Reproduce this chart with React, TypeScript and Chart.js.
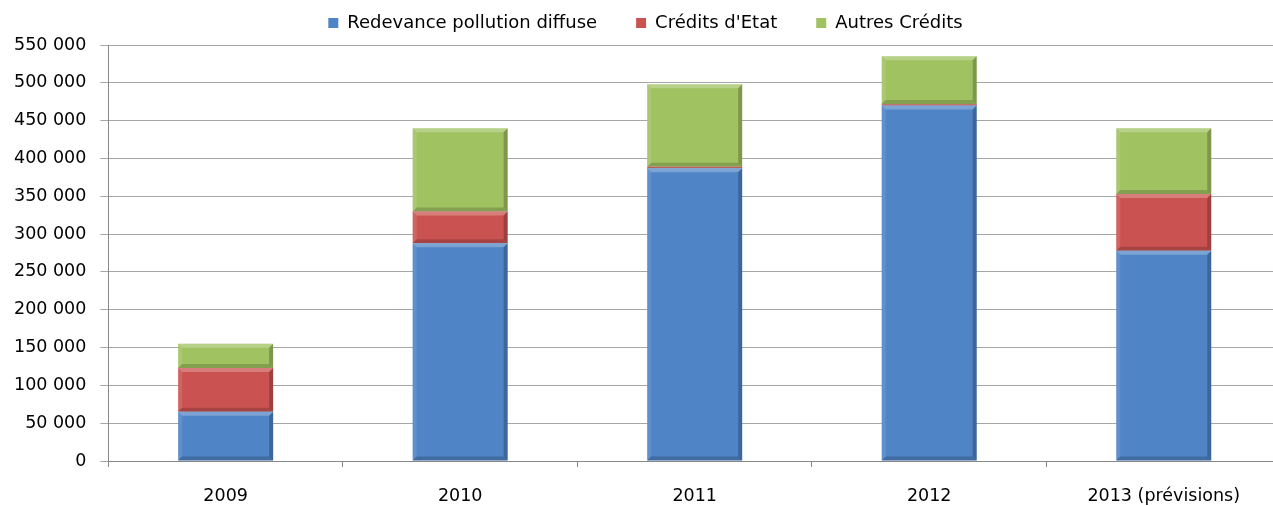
import React, { useEffect, useRef } from "react";
import { Chart, registerables } from "chart.js";

Chart.register(...registerables);

const categories = ["2009", "2010", "2011", "2012", "2013 (prévisions)"];
const redevance = [65000, 288000, 387000, 470000, 278000];
const creditsEtat = [58000, 42000, 2000, 2000, 75000];
const autresCredits = [32000, 110000, 109000, 63000, 87000];
const seriesNames = ["Redevance pollution diffuse", "Crédits d'Etat", "Autres Crédits"];
const yMax = 550000;
const yStep = 50000;

const FONT = "'DejaVu Sans', sans-serif";
const FS = 17.5;
const LEGEND_FS = 18;
const LEGEND_PAD = 39;
const LEGEND_HEIGHT = 70;
const LEGEND_SHIFT = 5;

const bevelPlugin = {
  id: "bevel",
  afterDatasetsDraw(chart: any) {
    const ctx = chart.ctx;
    chart.data.datasets.forEach((_: any, i: number) => {
      const meta = chart.getDatasetMeta(i);
      meta.data.forEach((el: any) => {
        const p = el.getProps(["x", "y", "base", "width"], true);
        const l = p.x - p.width / 2;
        const r = p.x + p.width / 2;
        const t = Math.min(p.y, p.base);
        const b = Math.max(p.y, p.base);
        const h = b - t;
        if (h < 1) return;
        const e = Math.min(4, h / 2);
        ctx.save();
        ctx.fillStyle = "rgba(255,255,255,0.25)";
        ctx.beginPath();
        ctx.moveTo(l, t);
        ctx.lineTo(r, t);
        ctx.lineTo(r - e, t + e);
        ctx.lineTo(l + e, t + e);
        ctx.closePath();
        ctx.fill();
        ctx.fillStyle = "rgba(255,255,255,0.10)";
        ctx.beginPath();
        ctx.moveTo(l, t);
        ctx.lineTo(l + e, t + e);
        ctx.lineTo(l + e, b - e);
        ctx.lineTo(l, b);
        ctx.closePath();
        ctx.fill();
        ctx.fillStyle = "rgba(0,0,0,0.22)";
        ctx.beginPath();
        ctx.moveTo(r, t);
        ctx.lineTo(r, b);
        ctx.lineTo(r - e, b - e);
        ctx.lineTo(r - e, t + e);
        ctx.closePath();
        ctx.fill();
        ctx.fillStyle = "rgba(0,0,0,0.18)";
        ctx.beginPath();
        ctx.moveTo(l, b);
        ctx.lineTo(r, b);
        ctx.lineTo(r - e, b - e);
        ctx.lineTo(l + e, b - e);
        ctx.closePath();
        ctx.fill();
        ctx.restore();
      });
    });
  },
};

const legendHeightPlugin = {
  id: "legendHeight",
  beforeInit(chart: any) {
    const legend = chart.legend;
    if (!legend) return;
    const orig = legend.fit;
    legend.fit = function () {
      orig.call(this);
      this.height = LEGEND_HEIGHT;
    };
  },
  afterLayout(chart: any) {
    const legend = chart.legend;
    if (!legend) return;
    legend.left += LEGEND_SHIFT;
    legend.right += LEGEND_SHIFT;
  },
};

export default function App() {
  const ref = useRef<HTMLCanvasElement | null>(null);
  useEffect(() => {
    if (!ref.current) return;
    const chart = new Chart(ref.current, {
      type: "bar",
      data: {
        labels: categories,
        datasets: [
          { label: seriesNames[0], data: redevance, backgroundColor: "#4F84C6" },
          { label: seriesNames[1], data: creditsEtat, backgroundColor: "#CA5351" },
          { label: seriesNames[2], data: autresCredits, backgroundColor: "#A0C261" },
        ],
      },
      plugins: [bevelPlugin, legendHeightPlugin],
      options: {
        animation: false,
        responsive: false,
        maintainAspectRatio: false,
        layout: { padding: { left: 0, right: 0, top: -25, bottom: -20 } },
        datasets: { bar: { categoryPercentage: 1, barPercentage: 0.405 } },
        plugins: {
          legend: {
            position: "top",
            labels: {
              boxWidth: 10,
              boxHeight: 10,
              padding: LEGEND_PAD,
              color: "#000",
              font: { family: FONT, size: LEGEND_FS },
            },
          },
          tooltip: { enabled: false },
        },
        scales: {
          x: {
            stacked: true,
            grid: { offset: true, drawOnChartArea: false, color: "#888", tickLength: 6 },
            border: { color: "#888" },
            ticks: { color: "#000", padding: 19, maxRotation: 0, font: { family: FONT, size: FS } },
          },
          y: {
            stacked: true,
            min: 0,
            max: yMax,
            grid: { color: "#A6A6A6", tickLength: 8, lineWidth: 1 },
            border: { color: "#888" },
            ticks: {
              stepSize: yStep,
              color: "#000",
              padding: 14,
              font: { family: FONT, size: FS },
              callback: (v: any) => Number(v).toLocaleString("fr-FR").replace(/\u202f|\u00a0/g, " "),
            },
          },
        },
      },
    });
    return () => chart.destroy();
  }, []);
  return (
    <div style={{ position: "fixed", left: 0, top: 0, width: 1273, height: 506, background: "#fff", overflow: "hidden" }}>
      <canvas ref={ref} width={1281} height={506} />
    </div>
  );
}
